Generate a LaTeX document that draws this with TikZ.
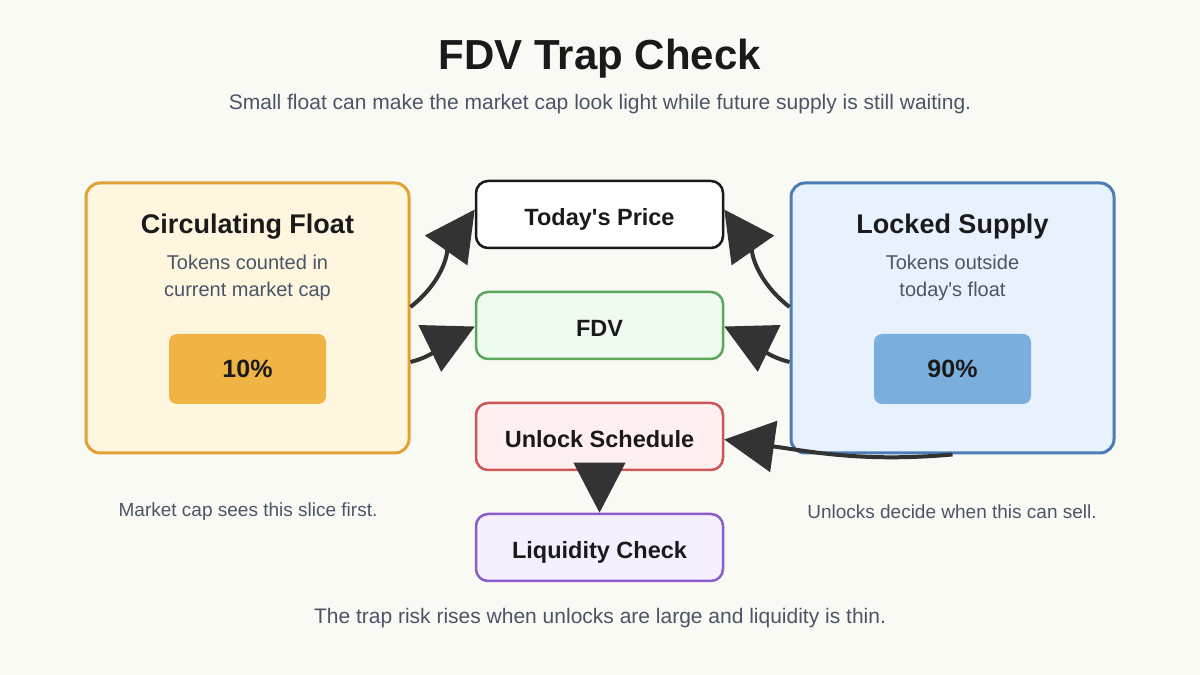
\documentclass[tikz,border=0pt]{standalone}
\usepackage{fontspec}
\setmainfont{Liberation Sans}[Ligatures=TeXOff]
\usetikzlibrary{arrows.meta}
\definecolor{bg}{HTML}{FAFAF5}
\definecolor{ink}{HTML}{1A1A1A}
\definecolor{muted}{HTML}{4A5568}
\definecolor{arr}{HTML}{333333}
\definecolor{lfill}{HTML}{FFF6E0}
\definecolor{ldraw}{HTML}{E0A235}
\definecolor{lchip}{HTML}{F0B444}
\definecolor{rfill}{HTML}{E8F2FE}
\definecolor{rdraw}{HTML}{4A7DB5}
\definecolor{rchip}{HTML}{7AAEDD}
\definecolor{gfill}{HTML}{F0FBF0}
\definecolor{gdraw}{HTML}{5BA85B}
\definecolor{pfill}{HTML}{FEF0F0}
\definecolor{pdraw}{HTML}{CC5555}
\definecolor{vfill}{HTML}{F6F0FE}
\definecolor{vdraw}{HTML}{8A5CCC}
\begin{document}
\begin{tikzpicture}[x=1pt,y=1pt,
  bigbox/.style={rounded corners=14pt,line width=3pt,minimum width=323pt,minimum height=270pt,inner sep=0pt},
  chip/.style={rounded corners=8pt,minimum width=157pt,minimum height=70pt,inner sep=0pt,font=\fontsize{25}{29}\selectfont\bfseries,text=ink},
  midbox/.style={rounded corners=12pt,line width=2.5pt,minimum width=247pt,minimum height=67pt,inner sep=0pt,text height=22pt,text depth=0pt,font=\fontsize{23.5}{27}\selectfont\bfseries,text=ink},
  boxtitle/.style={font=\fontsize{27}{31}\selectfont\bfseries,text=ink},
  desc/.style={font=\fontsize{20}{27}\selectfont,text=muted,align=center},
  caption/.style={font=\fontsize{19}{22}\selectfont,text=muted},
  conn/.style={draw=arr,line width=4pt,-{Triangle[length=50pt,width=51pt]},arr}
]
\fill[bg] (0,0) rectangle (1200,675);
\useasboundingbox (0,0) rectangle (1200,675);

\node[font=\fontsize{42}{48}\selectfont\bfseries,text=ink] (title) at (600,616) {FDV Trap Check};
\node[font=\fontsize{21}{25}\selectfont,text=muted] (sub) at (600,571) {Small float can make the market cap look light while future supply is still waiting.};

% left box
\node[bigbox,fill=lfill,draw=ldraw] (circ) at (247.5,357) {};
\node[boxtitle] (circt) at (247.5,448) {Circulating Float};
\node[desc] (circd) at (247.5,397.5) {Tokens counted in\\current market cap};
\node[chip,fill=lchip] (circc) at (247.5,306) {10\%};

% right box
\node[bigbox,fill=rfill,draw=rdraw] (lock) at (952.5,357) {};
\node[boxtitle] (lockt) at (952.5,448) {Locked Supply};
\node[desc] (lockd) at (952.5,397.5) {Tokens outside\\today's float};
\node[chip,fill=rchip] (lockc) at (952.5,306) {90\%};

% middle boxes
\node[midbox,fill=white,draw=ink] (price) at (599.5,460.5) {Today's Price};
\node[midbox,fill=gfill,draw=gdraw] (fdv) at (599.5,349.5) {FDV};
\node[midbox,fill=pfill,draw=pdraw] (unlock) at (599.5,238.5) {Unlock Schedule};
\node[midbox,fill=vfill,draw=vdraw] (liq) at (599.5,127.5) {Liquidity Check};

% captions
\node[caption] (capl) at (248,163) {Market cap sees this slice first.};
\node[caption] (capr) at (952,163) {Unlocks decide when this can sell.};
\node[font=\fontsize{21}{25}\selectfont,text=muted] (bottom) at (600,57) {The trap risk rises when unlocks are large and liquidity is thin.};

% connectors
\draw[conn] ([yshift=11pt]circ.east) to[out=38,in=235] ([yshift=5pt]price.west);
\draw[conn] ([yshift=-44pt]circ.east) to[out=14,in=206] ([yshift=-1pt]fdv.west);
\draw[conn] ([yshift=11pt]lock.west) to[out=142,in=305] ([yshift=5pt]price.east);
\draw[conn] ([yshift=-44pt]lock.west) to[out=166,in=334] ([yshift=-1pt]fdv.east);
\draw[conn] (lock.south) to[out=185,in=352] ([yshift=-3pt]unlock.east);
\draw[conn] (unlock.south) -- (liq.north);
\end{tikzpicture}
\end{document}
